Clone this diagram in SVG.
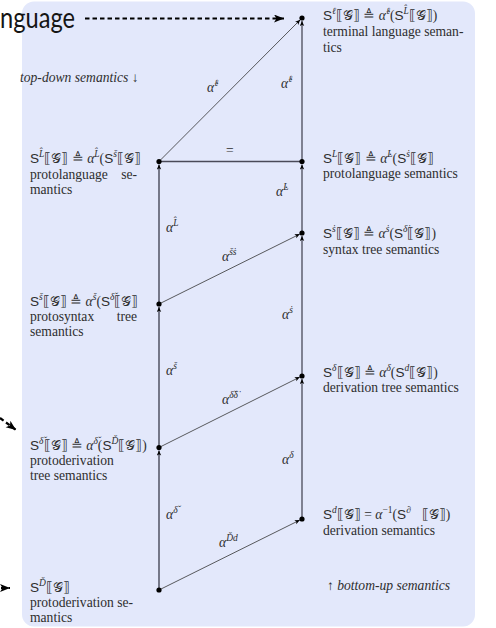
<svg xmlns="http://www.w3.org/2000/svg" width="496" height="628" viewBox="0 0 496 628">
<style>
.t{font-family:'Liberation Serif',serif;font-size:13.6px;fill:#2e2e2e}
.sf{font-family:'Liberation Sans',sans-serif;font-style:normal}
.i{font-style:italic}
.sp{font-size:9.5px}
.big{font-family:Lato,'Open Sans',sans-serif;font-size:28px;fill:#151515}
.ed{fill:none;stroke:#333;stroke-width:0.8}
.vl{fill:none;stroke:#1a1a2a;stroke-width:1.1}
.vr{fill:none;stroke:#4a4a58;stroke-width:1.3}
.ptr{fill:none;stroke:#000;stroke-width:2.2;stroke-dasharray:4.5 3}
.dot{fill:#000}
</style>
<defs>
<marker id="ah" markerUnits="userSpaceOnUse" markerWidth="6" markerHeight="5" refX="5" refY="2.2" orient="auto">
<path d="M0,0 L5,2.2 L0,4.4 L1.2,2.2 z" fill="#000"/>
</marker>
<marker id="bh" markerUnits="userSpaceOnUse" markerWidth="11" markerHeight="9" refX="10" refY="4" orient="auto">
<path d="M0,0 L10,4 L0,8 L2.5,4 z" fill="#000"/>
</marker>
</defs>
<rect x="22" y="1.5" width="453" height="625" rx="12" fill="#e3e8fb"/>
<text class="big" font-family="Lato" x="0" y="28" textLength="75" lengthAdjust="spacingAndGlyphs">nguage</text>
<g font-family="Liberation Serif">
<text class="t i" x="20" y="82">top-down semantics ↓</text>
<text class="t" x="327" y="590">↑ <tspan class="i">bottom-up semantics</tspan></text>
</g>

<g id="connectors">
<line class="ptr" x1="85" y1="18.5" x2="284" y2="18.5" marker-end="url(#bh)"/>
<line class="ptr" x1="-12" y1="409" x2="16" y2="430" marker-end="url(#bh)"/>
<line class="ptr" x1="-14" y1="588" x2="10" y2="588" marker-end="url(#bh)"/>
<line class="ed" x1="159" y1="161.5" x2="300.2" y2="19.8" marker-end="url(#ah)"/>
<line class="vr" x1="302" y1="161.5" x2="302" y2="21" marker-end="url(#ah)"/>
<line class="vr" x1="159" y1="161.5" x2="302" y2="161.5"/>
<line class="vr" x1="302" y1="233" x2="302" y2="164.5" marker-end="url(#ah)"/>
<line class="vl" x1="159" y1="304" x2="159" y2="164.5" marker-end="url(#ah)"/>
<line class="ed" x1="159" y1="304" x2="299.8" y2="234.1" marker-end="url(#ah)"/>
<line class="vr" x1="302" y1="376" x2="302" y2="236" marker-end="url(#ah)"/>
<line class="vl" x1="159" y1="447.5" x2="159" y2="307" marker-end="url(#ah)"/>
<line class="ed" x1="159" y1="447.5" x2="299.8" y2="377.1" marker-end="url(#ah)"/>
<line class="vr" x1="302" y1="519" x2="302" y2="379" marker-end="url(#ah)"/>
<line class="vl" x1="159" y1="590" x2="159" y2="450.5" marker-end="url(#ah)"/>
<line class="ed" x1="159" y1="590" x2="299.8" y2="520.1" marker-end="url(#ah)"/>
<g font-family="Liberation Serif">
<text class="t i" x="207" y="92">α̇<tspan class="sp" dy="-6">ℓ</tspan></text>
<text class="t i" x="281" y="88">α̇<tspan class="sp" dy="-6">ℓ</tspan></text>
<text class="t" x="226" y="155">=</text>
<text class="t i" x="276" y="196">α̇<tspan class="sp" dy="-6">L</tspan></text>
<text class="t i" x="166" y="232">α<tspan class="sp" dy="-6">L̂</tspan></text>
<text class="t i" x="222" y="261">α<tspan class="sp" dy="-6">šṡ</tspan></text>
<text class="t i" x="282" y="319">α<tspan class="sp" dy="-6">ṡ</tspan></text>
<text class="t i" x="166" y="375">α<tspan class="sp" dy="-6">š</tspan></text>
<text class="t i" x="222" y="404">α<tspan class="sp" dy="-6">δ̌δ̇</tspan></text>
<text class="t i" x="282" y="464">α<tspan class="sp" dy="-6">δ</tspan></text>
<text class="t i" x="166" y="519">α<tspan class="sp" dy="-6">δ̌</tspan></text>
<text class="t i" x="219" y="547">α<tspan class="sp" dy="-6">Ďd</tspan></text>
</g>
</g>

<g font-family="Liberation Serif">
<g id="n-terminal">
<circle class="dot" cx="302" cy="18" r="2.6"/>
<text class="t" x="323" y="20"><tspan class="sf">S</tspan><tspan class="sp i" dy="-6">ℓ</tspan><tspan dy="6">⟦𝒢⟧ ≜ </tspan><tspan class="i">α̇</tspan><tspan class="sp i" dy="-6">ℓ</tspan><tspan dy="6">(</tspan><tspan class="sf">S</tspan><tspan class="sp i" dy="-6">L̂</tspan><tspan dy="6">⟦𝒢⟧)</tspan></text>
<text class="t" x="323" y="36">terminal language seman-</text>
<text class="t" x="323" y="52">tics</text>
</g>

<g id="n-protolanguage">
<circle class="dot" cx="159" cy="161.5" r="2.6"/>
<text class="t" x="30" y="163"><tspan class="sf">S</tspan><tspan class="sp i" dy="-6">L̂</tspan><tspan dy="6">⟦𝒢⟧ ≜ </tspan><tspan class="i">α</tspan><tspan class="sp i" dy="-6">L̂</tspan><tspan dy="6">(</tspan><tspan class="sf">S</tspan><tspan class="sp i" dy="-6">š</tspan><tspan dy="6">⟦𝒢⟧</tspan></text>
<text class="t" x="30" y="179">protolanguage</text>
<text class="t" x="137" y="179" text-anchor="end">se-</text>
<text class="t" x="30" y="194">mantics</text>
</g>

<g id="n-language">
<circle class="dot" cx="302" cy="161.5" r="2.6"/>
<text class="t" x="323" y="163"><tspan class="sf">S</tspan><tspan class="sp i" dy="-6">L</tspan><tspan dy="6">⟦𝒢⟧ ≜ </tspan><tspan class="i">α̇</tspan><tspan class="sp i" dy="-6">L</tspan><tspan dy="6">(</tspan><tspan class="sf">S</tspan><tspan class="sp i" dy="-6">ṡ</tspan><tspan dy="6">⟦𝒢⟧</tspan></text>
<text class="t" x="323" y="178">protolanguage semantics</text>
</g>

<g id="n-syntaxtree">
<circle class="dot" cx="302" cy="233" r="2.6"/>
<text class="t" x="323" y="238"><tspan class="sf">S</tspan><tspan class="sp i" dy="-6">ṡ</tspan><tspan dy="6">⟦𝒢⟧ ≜ </tspan><tspan class="i">α</tspan><tspan class="sp i" dy="-6">ṡ</tspan><tspan dy="6">(</tspan><tspan class="sf">S</tspan><tspan class="sp i" dy="-6">δ̇</tspan><tspan dy="6">⟦𝒢⟧)</tspan></text>
<text class="t" x="323" y="254">syntax tree semantics</text>
</g>

<g id="n-protosyntax">
<circle class="dot" cx="159" cy="304" r="2.6"/>
<text class="t" x="30" y="306"><tspan class="sf">S</tspan><tspan class="sp i" dy="-6">š</tspan><tspan dy="6">⟦𝒢⟧ ≜ </tspan><tspan class="i">α</tspan><tspan class="sp i" dy="-6">š</tspan><tspan dy="6">(</tspan><tspan class="sf">S</tspan><tspan class="sp i" dy="-6">δ̌</tspan><tspan dy="6">⟦𝒢⟧</tspan></text>
<text class="t" x="30" y="321">protosyntax</text>
<text class="t" x="137" y="321" text-anchor="end">tree</text>
<text class="t" x="30" y="336">semantics</text>
</g>

<g id="n-derivationtree">
<circle class="dot" cx="302" cy="376" r="2.6"/>
<text class="t" x="323" y="377"><tspan class="sf">S</tspan><tspan class="sp i" dy="-6">δ</tspan><tspan dy="6">⟦𝒢⟧ ≜ </tspan><tspan class="i">α</tspan><tspan class="sp i" dy="-6">δ</tspan><tspan dy="6">(</tspan><tspan class="sf">S</tspan><tspan class="sp i" dy="-6">d</tspan><tspan dy="6">⟦𝒢⟧)</tspan></text>
<text class="t" x="323" y="392">derivation tree semantics</text>
</g>

<g id="n-protoderivationtree">
<circle class="dot" cx="159" cy="447.5" r="2.6"/>
<text class="t" x="30" y="450"><tspan class="sf">S</tspan><tspan class="sp i" dy="-6">δ̌</tspan><tspan dy="6">⟦𝒢⟧ ≜ </tspan><tspan class="i">α</tspan><tspan class="sp i" dy="-6">δ̌</tspan><tspan dy="6">(</tspan><tspan class="sf">S</tspan><tspan class="sp i" dy="-6">Ď</tspan><tspan dy="6">⟦𝒢⟧)</tspan></text>
<text class="t" x="30" y="465">protoderivation</text>
<text class="t" x="30" y="480">tree semantics</text>
</g>

<g id="n-derivation">
<circle class="dot" cx="302" cy="519" r="2.6"/>
<text class="t" x="323" y="519"><tspan class="sf">S</tspan><tspan class="sp i" dy="-6">d</tspan><tspan dy="6">⟦𝒢⟧ = </tspan><tspan class="i">α</tspan><tspan class="sp" dy="-6">−1</tspan><tspan dy="6">(</tspan><tspan class="sf">S</tspan><tspan class="sp i" dy="-6">∂⃗</tspan><tspan dy="6"> ⟦𝒢⟧)</tspan></text>
<text class="t" x="323" y="535">derivation semantics</text>
</g>

<g id="n-protoderivation">
<circle class="dot" cx="159" cy="590" r="2.6"/>
<text class="t" x="30" y="592"><tspan class="sf">S</tspan><tspan class="sp i" dy="-6">Ď</tspan><tspan dy="6">⟦𝒢⟧</tspan></text>
<text class="t" x="30" y="607">protoderivation se-</text>
<text class="t" x="30" y="622">mantics</text>
</g>
</g>
</svg>
